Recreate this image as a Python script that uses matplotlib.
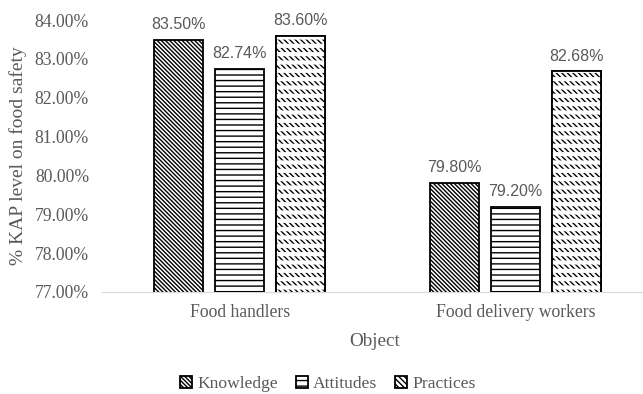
import matplotlib.pyplot as plt
import numpy as np

plt.rcParams["hatch.linewidth"] = 1.0

groups = ["Food handlers", "Food delivery workers"]
series = ["Knowledge", "Attitudes", "Practices"]
knowledge = [83.50, 79.80]
attitudes = [82.74, 79.20]
practices = [83.60, 82.68]
yticks = [77, 78, 79, 80, 81, 82, 83, 84]

hatches = ["\\" * 8, "---", "\\" * 6]
gray = "#595959"
serif = "Liberation Serif"

fig = plt.figure(figsize=(6.43, 3.94), dpi=100)
ax = fig.add_axes([0.158, 0.259, 0.85, 0.69])

x = np.arange(len(groups))
width = 0.175
offset = 0.221
for i, (name, vals, h) in enumerate(zip(series, [knowledge, attitudes, practices], hatches)):
    pos = x + (i - 1) * offset
    bars = ax.bar(pos, vals, width, color="white", edgecolor="black",
                  hatch=h, linewidth=1.3, label=name)
    if name == "Practices":
        # white horizontal bands chop the diagonals into short dashes
        with plt.rc_context({"hatch.linewidth": 3.0}):
            over = ax.bar(pos, vals, width, color="none", edgecolor="white",
                          hatch="--", linewidth=0)
        for p in over:
            if hasattr(p, "set_hatch_linewidth"):
                p.set_hatch_linewidth(3.0)
        ax.bar(pos, vals, width, color="none", edgecolor="black", linewidth=1.3)
    for b, v in zip(bars, vals):
        ax.text(b.get_x() + b.get_width() / 2, v + 0.2, f"{v:.2f}%",
                ha="center", va="bottom", fontsize=11.5, color=gray,
                family="Liberation Sans")

ax.set_ylim(77, 84)
ax.set_xlim(-0.5, 1.48)
ax.set_yticks(yticks)
ax.set_yticklabels([f"{t:.2f}%" for t in yticks], family=serif, fontsize=12.7, color=gray)
ax.set_xticks(x)
ax.set_xticklabels(groups, family=serif, fontsize=12.7, color=gray)
ax.tick_params(axis="y", length=0, pad=9)
ax.tick_params(axis="x", length=0, pad=9)
for s in ["top", "right", "left"]:
    ax.spines[s].set_visible(False)
ax.spines["bottom"].set_color("#d9d9d9")
ax.spines["bottom"].set_zorder(0)

ax.set_xlabel("Object", family=serif, fontsize=13.8, color=gray, labelpad=8)
ax.set_ylabel("% KAP level on food safety", family=serif, fontsize=14, color=gray, labelpad=6)

leg = fig.legend(loc="center", bbox_to_anchor=(0.51, 0.025), ncol=3, frameon=False,
                 prop={"family": serif, "size": 12.6}, handlelength=0.7, handleheight=0.7,
                 columnspacing=1.0, handletextpad=0.3)
for t in leg.get_texts():
    t.set_color(gray)

fig.savefig("out.png", dpi=100)
